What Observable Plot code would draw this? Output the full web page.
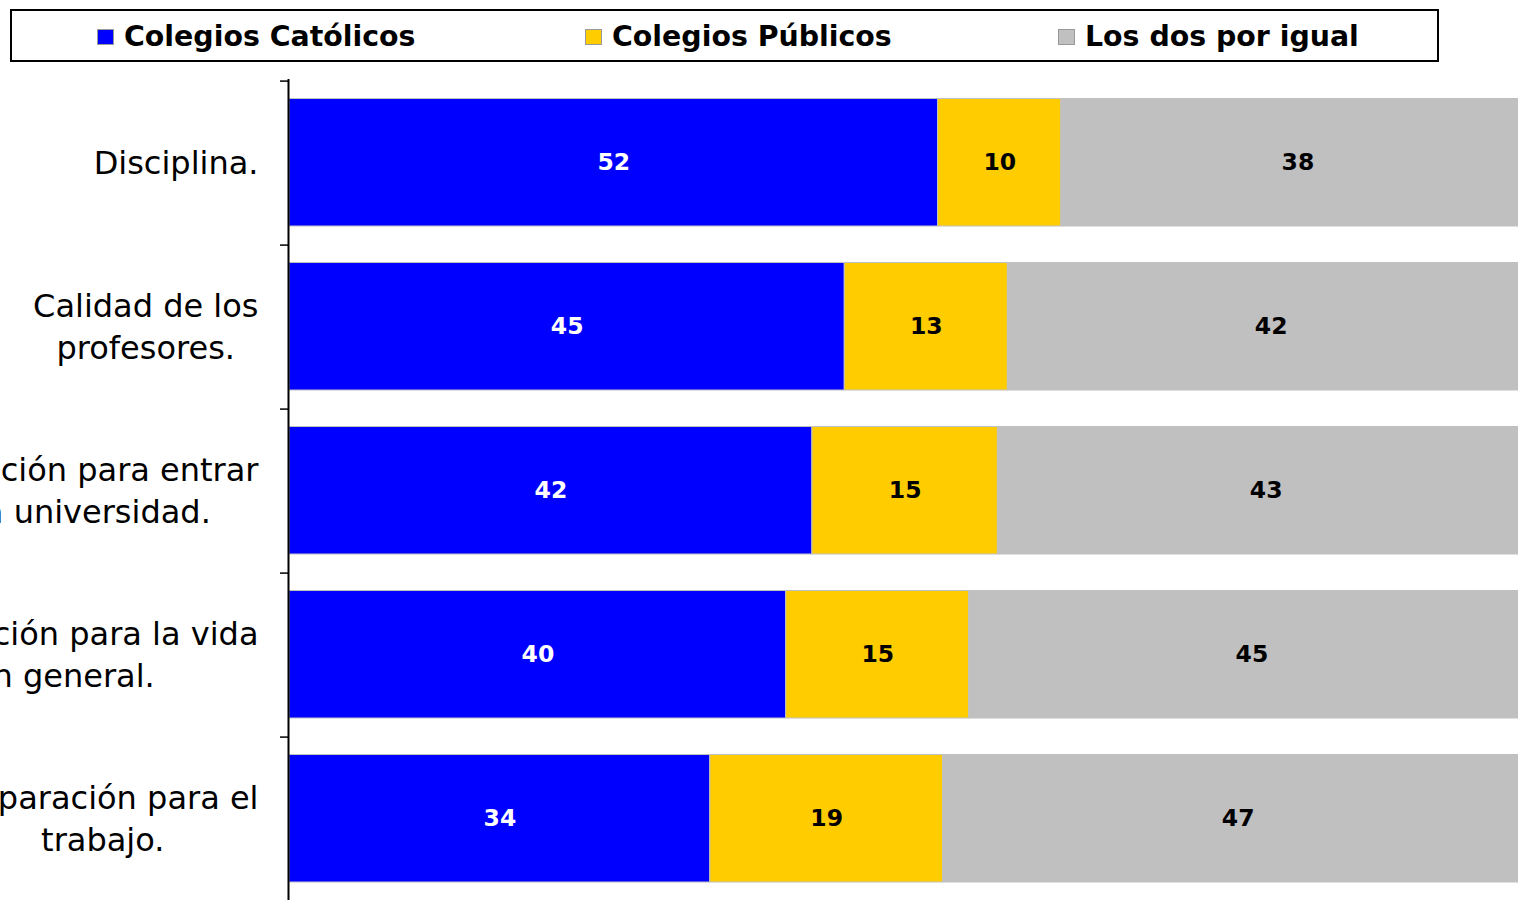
<!DOCTYPE html>
<html><head><meta charset="utf-8">
<script src="https://cdn.jsdelivr.net/npm/d3@7"></script>
<script src="https://cdn.jsdelivr.net/npm/@observablehq/plot@0.6"></script>
<style>
html,body{margin:0;padding:0;background:#fff;overflow:hidden;width:1518px;height:900px;}
#wrap{position:relative;width:1518px;height:900px;overflow:hidden;}
#chart{position:absolute;left:0;top:0;}
#legend{position:absolute;left:10px;top:9px;width:1425px;height:49px;border:2px solid #000;background:#fff;
  font-family:"DejaVu Sans";font-weight:bold;font-size:28.4px;color:#000;z-index:2;}
.item{position:absolute;top:1px;height:49px;display:flex;align-items:center;white-space:nowrap;}
.sw{width:17px;height:16px;border:1px solid #999;margin-right:10px;box-sizing:border-box;}
</style>
</head><body>
<div id="wrap"><div id="chart"></div><div id="legend"></div></div>
<script>
const categories = ["Disciplina.", "Calidad de los\nprofesores.", "Preparación para entrar\nen la universidad.", "Preparación para la vida\nen general.", "Preparación para el\ntrabajo."];
const series = ["Colegios Católicos", "Colegios Públicos", "Los dos por igual"];
const catolicos = [52.1, 44.6, 42.0, 39.9, 33.8];
const publicos = [9.9, 13.1, 14.9, 14.7, 18.7];
const igual = [38.0, 42.3, 43.1, 45.4, 47.4];
const colors = ["#0000FF", "#FFCC00", "#C0C0C0"];
const legendLeft = [85, 573, 1046];

const values = [catolicos, publicos, igual];
const data = categories.flatMap((c, i) => series.map((s, j) => ({cat: c, series: s, value: values[j][i]})));

const xRange = [289, 1534];
const yRange = [79, 903];
const xs = d3.scaleLinear([0, 100], xRange);
const ctx = document.createElement("canvas").getContext("2d");
ctx.font = "32px 'DejaVu Sans'";
const labelX = c => xs.invert(258 - d3.max(c.split("\n"), l => ctx.measureText(l).width) / 2);
const step = (yRange[1] - yRange[0]) / categories.length;

const chart = Plot.plot({
  width: 1518, height: 910,
  marginTop: 79, marginBottom: 7, marginLeft: 289, marginRight: 0,
  x: {domain: [0, 100], range: xRange, axis: null},
  y: {domain: categories, range: yRange, padding: 0, axis: null},
  color: {domain: series, range: colors},
  style: {fontFamily: "DejaVu Sans", background: "transparent", overflow: "visible"},
  marks: [
    Plot.barX(data, {x: "value", y: "cat", fill: "series", stroke: "#c0c0c0", strokeWidth: 1, insetTop: 17.5, insetBottom: 19}),
    Plot.text(data, Plot.stackX({x: "value", y: "cat", text: d => d.series === series[0] ? String(Math.round(d.value)) : null,
      fill: "#ffffff", fontWeight: "bold", fontSize: 23.5, dy: -1})),
    Plot.text(data, Plot.stackX({x: "value", y: "cat", text: d => d.series !== series[0] ? String(Math.round(d.value)) : null,
      fill: "#000000", fontWeight: "bold", fontSize: 23.5, dy: -1})),
    Plot.text(categories, {x: d => labelX(d), y: d => d, text: d => d, textAnchor: "middle", lineAnchor: "middle",
      lineHeight: 1.3, fontSize: 32, fill: "#000", dy: -3}),
    Plot.axisY({tickSize: 8, tickFormat: () => "", label: null, dy: -step / 2, dx: -1, strokeWidth: 1.5, stroke: "#000"}),
    Plot.ruleX([0], {stroke: "#000", strokeWidth: 2, dx: -1})
  ]
});
document.getElementById("chart").appendChild(chart);

const legend = document.getElementById("legend");
series.forEach((s, i) => {
  const it = document.createElement("div");
  it.className = "item";
  it.style.left = legendLeft[i] + "px";
  const sw = document.createElement("div");
  sw.className = "sw";
  sw.style.background = colors[i];
  const t = document.createElement("span");
  t.textContent = s;
  it.appendChild(sw); it.appendChild(t);
  legend.appendChild(it);
});
</script>
</body></html>
